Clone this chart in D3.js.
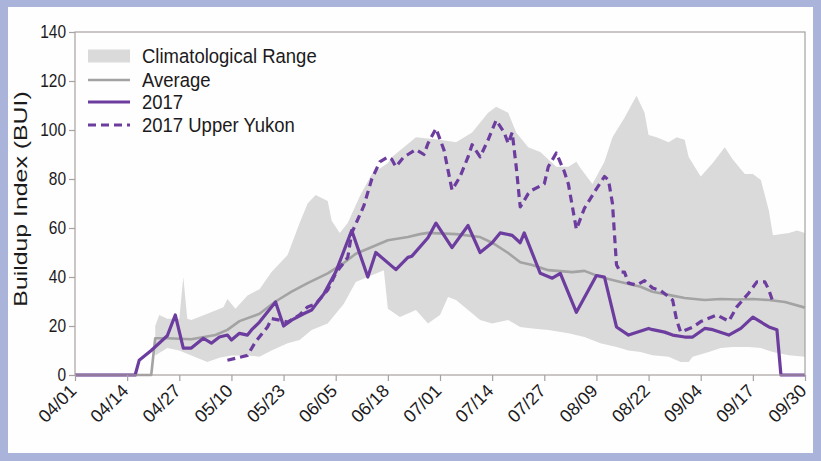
<!DOCTYPE html>
<html>
<head>
<meta charset="utf-8">
<script src="https://cdn.jsdelivr.net/npm/d3@7"></script>
<style>
  html, body { margin: 0; padding: 0; background: #aab3da; }
  svg { display: block; }
  text { font-family: "Liberation Sans", Arial, sans-serif; fill: #1c1a1b; }
</style>
</head>
<body>
<svg id="chart" width="821" height="461"></svg>
<script>
// Buildup Index, 1 April – 30 September 2017
const yTicks = [0, 20, 40, 60, 80, 100, 120, 140];
const xTickLabels = ["04/01","04/14","04/27","05/10","05/23","06/05","06/18","07/01",
                     "07/14","07/27","08/09","08/22","09/04","09/17","09/30"];

const legendLabels = ["Climatological Range", "Average", "2017", "2017 Upper Yukon"];

// Upper edge of the climatological range
const rangeMax = [
  ["04/21",20],["04/22",24.5],["04/24",23],["04/27",23],["04/28",40],["04/29",23],["04/30",22.4],
  ["05/04",25],["05/08",27.7],["05/09",31],["05/11",27],["05/14",32.5],["05/17",35],["05/20",42],
  ["05/24",49],["05/27",62],["05/29",70],["05/31",73.5],["06/03",71],["06/04",63],["06/06",58],
  ["06/08",62],["06/11",73],["06/14",82],["06/18",86.5],["06/19",89],["06/22",93],["06/25",97],
  ["06/28",96.5],["07/01",96],["07/05",95],["07/09",99],["07/13",107],["07/15",109.5],["07/18",107],
  ["07/20",99],["07/23",93],["07/26",91],["07/30",85],["08/02",85],["08/04",87],["08/05",84.5],
  ["08/08",78],["08/11",87],["08/13",97],["08/16",105],["08/18",111],["08/19",114],["08/21",107],
  ["08/22",98],["08/24",97],["08/27",95],["08/29",97],["08/31",96],["09/01",89],["09/04",81],
  ["09/07",86.5],["09/10",93],["09/12",88],["09/15",82],["09/17",82],["09/19",79.6],["09/21",67],
  ["09/22",57],["09/26",58],["09/28",59],["09/30",58]
];

// Lower edge of the climatological range
const rangeMin = [
  ["04/21",8],["04/24",11],["04/27",10],["04/30",8],["05/04",5.3],["05/07",7],["05/10",8],
  ["05/14",8],["05/17",7.5],["05/20",10],["05/24",13],["05/27",14.3],["05/30",18.4],["06/03",21],
  ["06/07",29],["06/10",38],["06/13",40],["06/17",42.8],["06/18",27],["06/21",23.7],["06/25",26.5],
  ["06/28",21],["07/01",24.5],["07/03",31.8],["07/05",30.6],["07/08",26.5],["07/11",22.4],
  ["07/14",21],["07/18",22.4],["07/21",19.6],["07/24",19],["07/28",18.4],["08/02",17],["08/06",15.5],
  ["08/10",13],["08/14",11.4],["08/17",10],["08/20",9.4],["08/23",8.1],["08/27",7.5],["08/30",5.3],
  ["09/01",5.3],["09/02",7.5],["09/06",9.4],["09/09",11],["09/12",11.4],["09/16",11.4],["09/19",11],
  ["09/22",9.4],["09/26",8.1],["09/30",7.5]
];

// Long-term average
const average = [
  ["04/01",0],["04/20",0],["04/21",15],["04/24",15],["04/30",14.6],["05/06",16.3],["05/09",18.4],
  ["05/12",22],["05/17",25],["05/21",30],["05/25",34],["05/29",37.5],["06/03",41.5],["06/07",45.7],
  ["06/10",49.5],["06/13",51.5],["06/18",55],["06/23",56.3],["06/26",57.5],["06/28",58],["07/05",57.5],
  ["07/11",56.3],["07/14",54],["07/18",49.8],["07/21",46],["07/24",44.9],["07/28",42.8],["08/03",42],
  ["08/06",42.5],["08/10",40],["08/15",38],["08/20",36],["08/23",34],["08/27",32.7],["08/31",31.4],
  ["09/05",30.6],["09/09",31],["09/13",30.8],["09/17",31],["09/21",30.6],["09/25",29.8],["09/30",27.5]
];

// 2017 season
const bui2017 = [
  ["04/01",0],["04/16",0],["04/17",6],["04/20",10],["04/24",16],["04/26",24.5],["04/28",11],
  ["04/30",11],["05/03",15],["05/05",13],["05/07",15.5],["05/09",16.3],["05/10",14.3],["05/12",17],
  ["05/14",16.3],["05/15",18.4],["05/17",21.6],["05/19",25.7],["05/21",29.8],["05/23",20],["05/25",22.4],
  ["05/28",25],["05/30",26.5],["06/02",33],["06/05",42],["06/09",59],["06/13",40],["06/15",50],
  ["06/20",43],["06/23",48],["06/24",48.5],["06/28",56],["06/30",62],["07/04",52],["07/08",61],
  ["07/11",50],["07/14",54],["07/16",58],["07/19",57],["07/21",54],["07/22",58],["07/25",45.6],
  ["07/26",41.5],["07/29",39.5],["07/31",41.5],["08/04",25.6],["08/09",40.6],["08/11",40],
  ["08/14",19.6],["08/17",16.3],["08/22",19],["08/23",18.5],["08/26",17.5],["08/28",16.3],
  ["08/31",15.5],["09/02",15.5],["09/05",19],["09/07",18.5],["09/11",16.3],["09/14",19],["09/17",23.6],
  ["09/21",19.6],["09/23",18.5],["09/24",0],["09/30",0]
];

// 2017, Upper Yukon zone
const bui2017UpperYukon = [
  ["05/09",6],["05/14",8],["05/16",13.5],["05/19",19.6],["05/20",23],["05/22",22.4],["05/24",21.6],
  ["05/27",24.5],["05/29",27.8],["05/31",29],["06/03",34.7],["06/05",41.5],["06/08",48],["06/09",58],
  ["06/12",69],["06/14",80],["06/16",87],["06/18",89],["06/19",88],["06/20",85],["06/22",89],
  ["06/23",90],["06/25",92],["06/27",90],["06/28",94.5],["06/30",100.6],["07/02",91.8],["07/03",83.6],
  ["07/04",75.5],["07/06",81],["07/08",89],["07/09",94],["07/11",89],["07/13",96],["07/15",104],
  ["07/17",99],["07/18",94.5],["07/19",99],["07/20",85],["07/21",68.6],["07/23",74],["07/24",75.5],
  ["07/27",78],["07/28",85],["07/30",90.6],["08/01",83],["08/02",78],["08/04",59.5],["08/06",68],
  ["08/09",76],["08/11",81],["08/12",79.6],["08/13",70],["08/14",45],["08/15",42],["08/16",42],
  ["08/17",37.5],["08/19",36.7],["08/21",38.5],["08/23",35.5],["08/25",34.5],["08/28",30.6],
  ["08/29",22.4],["08/30",17.5],["09/02",19.5],["09/04",21.8],["09/08",24.5],["09/11",22],
  ["09/13",27.8],["09/16",33.5],["09/18",38],["09/20",38],["09/21",34.7],["09/22",29.8]
];

const parseDay = d3.timeParse("%m/%d/%Y");
const toDate = s => parseDay(s + "/2017");

const svg = d3.select("#chart");

// white panel inside the lavender border
svg.append("rect").attr("x", 8).attr("y", 7).attr("width", 805).attr("height", 446).attr("fill", "#fefefe");

const x = d3.scaleTime().domain([toDate("04/01"), toDate("09/30")]).range([75, 805]);
const y = d3.scaleLinear().domain([0, 140]).range([375, 32]);

const frameColor = "#a9a1a1";
const rangeColor = "#dadada";
const avgColor = "#a3a3a3";
const purple = "#6c3d9e";

// climatological range as a closed polygon: upper edge forward, lower edge back
const rangePts = rangeMax.map(d => [x(toDate(d[0])), y(d[1])])
  .concat(rangeMin.slice().reverse().map(d => [x(toDate(d[0])), y(d[1])]));
svg.append("path")
  .attr("d", d3.line()(rangePts) + "Z")
  .attr("fill", rangeColor);

const line = d3.line().x(d => x(toDate(d[0]))).y(d => y(d[1]));

svg.append("path").datum(average).attr("d", line)
  .attr("fill", "none").attr("stroke", avgColor).attr("stroke-width", 2.6).attr("stroke-linejoin", "round");

svg.append("path").datum(bui2017UpperYukon).attr("d", line)
  .attr("fill", "none").attr("stroke", purple).attr("stroke-width", 3.2)
  .attr("stroke-dasharray", "8,5").attr("stroke-linejoin", "round");

svg.append("path").datum(bui2017).attr("d", line)
  .attr("fill", "none").attr("stroke", purple).attr("stroke-width", 3.2).attr("stroke-linejoin", "round");

// frame
svg.append("rect").attr("x", 75).attr("y", 32).attr("width", 730).attr("height", 343)
  .attr("fill", "none").attr("stroke", frameColor).attr("stroke-width", 1.2);

// y axis
const yAxis = svg.append("g").attr("transform", "translate(75,0)")
  .call(d3.axisLeft(y).tickValues(yTicks).tickSize(6).tickFormat(d3.format("d")));
yAxis.select(".domain").remove();
yAxis.selectAll("line").attr("stroke", frameColor).attr("stroke-width", 1.2);
yAxis.selectAll("text")
  .attr("x", null).attr("dy", null)
  .attr("transform", "translate(-9,5.5) scale(1,1.15)")
  .attr("text-anchor", "end")
  .style("font-size", "15.5px");

// x axis
const xAxis = svg.append("g").attr("transform", "translate(0,375)")
  .call(d3.axisBottom(x).tickValues(xTickLabels.map(toDate)).tickSize(6)
    .tickFormat(d3.timeFormat("%m/%d")));
xAxis.select(".domain").remove();
xAxis.selectAll("line").attr("stroke", frameColor).attr("stroke-width", 1.2);
xAxis.selectAll("text")
  .attr("y", null).attr("dy", null)
  .attr("transform", "translate(2,17) rotate(-45)")
  .attr("text-anchor", "end")
  .style("font-size", "18px");

// y axis title
svg.append("text")
  .attr("transform", "translate(27,199) rotate(-90) scale(1.38,1)")
  .attr("text-anchor", "middle")
  .style("font-size", "18px")
  .text("Buildup Index (BUI)");

// legend
const legend = svg.append("g");
const rowY = [56, 80, 102, 125];
legend.append("rect").attr("x", 88).attr("y", rowY[0] - 6.5).attr("width", 42).attr("height", 13).attr("fill", rangeColor);
legend.append("line").attr("x1", 88).attr("x2", 130).attr("y1", rowY[1]).attr("y2", rowY[1])
  .attr("stroke", avgColor).attr("stroke-width", 2.6);
legend.append("line").attr("x1", 88).attr("x2", 130).attr("y1", rowY[2]).attr("y2", rowY[2])
  .attr("stroke", purple).attr("stroke-width", 3.2);
legend.append("line").attr("x1", 88).attr("x2", 130).attr("y1", rowY[3]).attr("y2", rowY[3])
  .attr("stroke", purple).attr("stroke-width", 3.2).attr("stroke-dasharray", "8,5");
legend.selectAll("text.lbl").data(legendLabels).join("text")
  .attr("class", "lbl")
  .attr("transform", (d, i) => `translate(142,${rowY[i] + 7}) scale(1,1.12)`)
  .style("font-size", "18.5px")
  .text(d => d);
</script>
</body>
</html>
